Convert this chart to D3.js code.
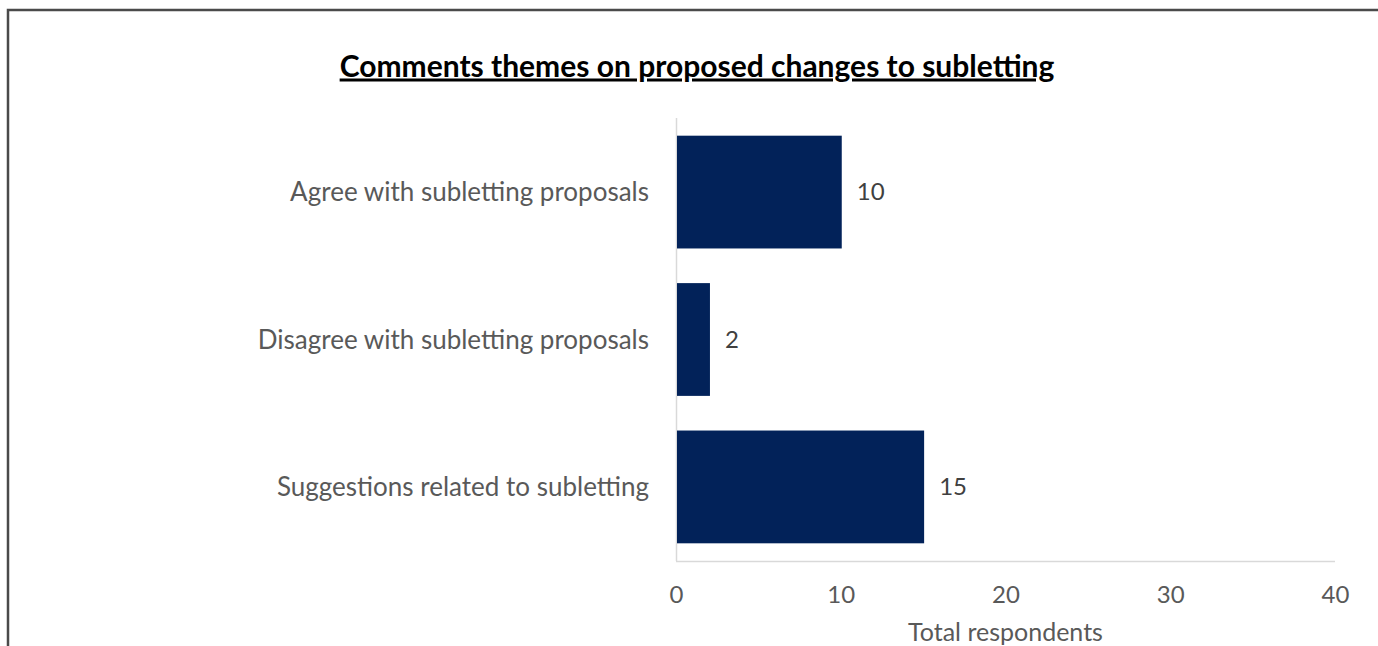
<!DOCTYPE html>
<html><head><meta charset="utf-8">
<script src="https://cdn.jsdelivr.net/npm/d3@7"></script>
<style>body{margin:0;background:#fff;}svg{display:block;}</style>
</head><body>
<svg id="chart" width="1378" height="646"></svg>
<script>
const categories = ["Agree with subletting proposals", "Disagree with subletting proposals", "Suggestions related to subletting"];
const values = [10, 2, 15];
const xTicks = [0, 10, 20, 30, 40];
const title = "Comments themes on proposed changes to subletting";
const xTitle = "Total respondents";

(function () {
const svg = d3.select("#chart");
const font = "Lato, 'Open Sans', sans-serif";

// outer frame
svg.append("path").attr("d", "M8,646 V10 H1378").attr("fill", "none").attr("stroke", "#4a4a4a").attr("stroke-width", 2.5);

const pLeft = 676, pRight = 1335, pTop = 118, pBottom = 561;
const x = d3.scaleLinear().domain([0, 40]).range([pLeft, pRight]);
const y = d3.scaleBand().domain(categories).range([pTop, pBottom]).paddingInner(0.235).paddingOuter(0.12);

// axes lines
svg.append("line").attr("x1", pLeft).attr("x2", pRight).attr("y1", pBottom + 0.5).attr("y2", pBottom + 0.5).attr("stroke", "#d9d9d9").attr("stroke-width", 1.5);
svg.append("line").attr("x1", pLeft + 0.5).attr("x2", pLeft + 0.5).attr("y1", pTop).attr("y2", pBottom).attr("stroke", "#d9d9d9").attr("stroke-width", 1.5);

// bars
svg.selectAll("rect.bar").data(values).join("rect").attr("class", "bar")
  .attr("x", x(0) + 1).attr("y", (d, i) => y(categories[i]))
  .attr("width", d => x(d) - x(0)).attr("height", y.bandwidth())
  .attr("fill", "#022259");

// data labels
svg.selectAll("text.val").data(values).join("text").attr("class", "val")
  .attr("x", d => x(d) + 16).attr("y", (d, i) => y(categories[i]) + y.bandwidth() / 2)
  .attr("dy", "0.35em").attr("font-family", font).attr("font-size", 24).attr("fill", "#404040")
  .text(d => d);

// category labels
svg.selectAll("text.cat").data(categories).join("text").attr("class", "cat")
  .attr("x", pLeft - 27).attr("y", d => y(d) + y.bandwidth() / 2)
  .attr("dy", "0.35em").attr("text-anchor", "end").attr("font-family", font).attr("font-size", 26).attr("fill", "#595959")
  .text(d => d);

// x tick labels
const xAxis = d3.axisBottom(x).tickValues(xTicks).tickSize(0).tickPadding(0);
const gx = svg.append("g").attr("transform", `translate(0,${pBottom})`).call(xAxis);
gx.select(".domain").remove();
gx.selectAll("text").attr("y", 34).attr("dy", "0.35em").attr("font-family", font).attr("font-size", 24).attr("fill", "#595959");

// x axis title
svg.append("text").attr("x", (pLeft + pRight) / 2).attr("y", 632).attr("dy", "0.35em")
  .attr("text-anchor", "middle").attr("font-family", font).attr("font-size", 25).attr("fill", "#595959").text(xTitle);

// title
svg.append("text").attr("x", 697).attr("y", 66).attr("dy", "0.35em")
  .attr("text-anchor", "middle").attr("font-family", font).attr("font-weight", "bold").attr("font-size", 30)
  .attr("text-decoration", "underline").attr("fill", "#000").text(title);
})();
</script>
</body></html>
